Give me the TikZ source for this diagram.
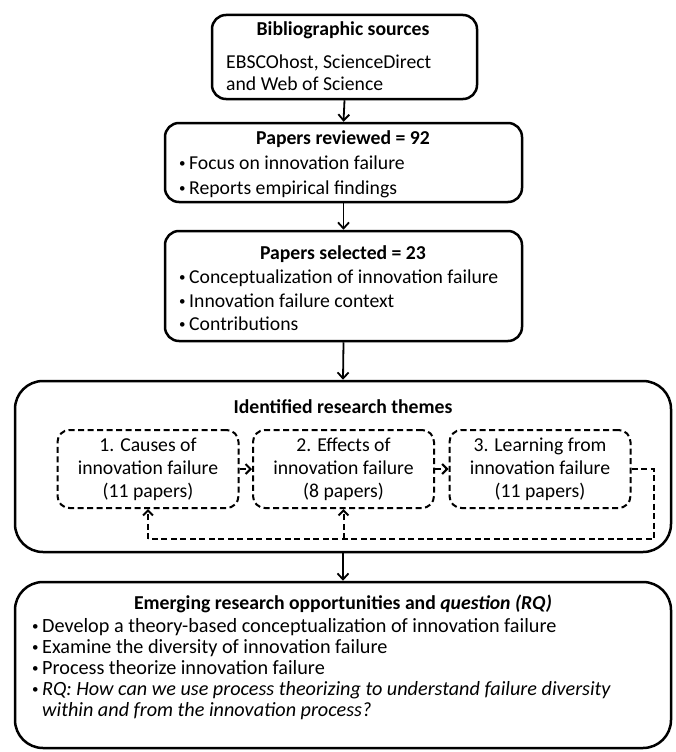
\documentclass[tikz,border=0pt]{standalone}
\usepackage{fontspec}
\setmainfont{Carlito}
\usetikzlibrary{arrows.meta}
\newcommand\bul{\makebox[10pt][l]{\raisebox{1.5pt}{\fontsize{13}{13}\selectfont •}}}
\begin{document}
\begin{tikzpicture}[x=1pt,y=-1pt,font=\fontsize{19.7}{23}\selectfont,
  box/.style={draw, line width=2.5pt, rounded corners=14pt, inner sep=0pt},
  bigbox/.style={box, rounded corners=28pt},
  dbox/.style={draw, line width=2pt, dash pattern=on 6pt off 3.5pt, rounded corners=12pt, inner sep=0pt, minimum width=181pt, minimum height=78pt, align=center},
  arr/.style={line width=1.8pt, -{Straight Barb[length=6pt,width=11pt,line width=1.8pt]}},
  darr/.style={line width=2pt, dash pattern=on 6pt off 3.5pt, -{Straight Barb[length=5pt,width=10pt,line width=2pt]}},
  dline/.style={line width=2pt, dash pattern=on 6pt off 3.5pt},
  txt/.style={anchor=base west, inner sep=0pt},
  ttl/.style={anchor=base, inner sep=0pt, font=\fontsize{19.7}{23}\selectfont\bfseries}]
\useasboundingbox (0,0) rectangle (676,752);
% boxes
\node[box, minimum width=265pt, minimum height=84pt] (b1) at (344.5,57) {};
\node[box, minimum width=357pt, minimum height=79pt] (b2) at (343.5,162.5) {};
\node[box, minimum width=357pt, minimum height=110pt] (b3) at (343.5,286) {};
\node[bigbox, minimum width=656pt, minimum height=171pt] (b4) at (343,466.5) {};
\node[bigbox, minimum width=656pt, minimum height=166pt] (b5) at (343,665) {};
% box 1 text
\node[ttl] (t1) at (343,36) {Bibliographic sources};
\node[txt] (t1a) at (226,68) {EBSCOhost, ScienceDirect};
\node[txt] (t1b) at (226,90) {and Web of Science};
% box 2 text
\node[ttl] (t2) at (343,144) {Papers reviewed = 92};
\node[txt] (t2a) at (179,169) {\bul Focus on innovation failure};
\node[txt] (t2b) at (179,194) {\bul Reports empirical findings};
% box 3 text
\node[ttl] (t3) at (343,259) {Papers selected = 23};
\node[txt] (t3a) at (179,283) {\bul Conceptualization of innovation failure};
\node[txt] (t3b) at (179,307) {\bul Innovation failure context};
\node[txt] (t3c) at (179,330) {\bul Contributions};
% box 4
\node[ttl] (t4) at (343,413) {Identified research themes};
\node[dbox] (d1) at (148,469) {1. Causes of\\innovation failure\\(11 papers)};
\node[dbox] (d2) at (343.5,469) {2. Effects of\\innovation failure\\(8 papers)};
\node[dbox] (d3) at (540,469) {3. Learning from\\innovation failure\\(11 papers)};
\coordinate (fbr) at (654,539);
\coordinate (fbl) at (148,539);
% box 5 text
\begin{scope}[font=\fontsize{20.2}{23}\selectfont]
\node[ttl] (t5) at (343,609) {Emerging research opportunities and \textit{question (RQ)}};
\node[txt] (t5a) at (32,632) {\bul Develop a theory-based conceptualization of innovation failure};
\node[txt] (t5b) at (32,653) {\bul Examine the diversity of innovation failure};
\node[txt] (t5c) at (32,674) {\bul Process theorize innovation failure};
\node[txt] (t5d) at (32,695) {\bul \textit{RQ: How can we use process theorizing to understand failure diversity}};
\node[txt] (t5e) at (42,716) {\textit{within and from the innovation process?}};
\end{scope}
% connectors
\draw[arr] (b1.south) -- (b2.north);
\draw[arr] (b2.south) -- (b3.north);
\draw[arr] (b3.south) -- (b4.north);
\draw[arr] (b4.south) -- (b5.north);
\draw[darr] (d1.east) -- (d2.west);
\draw[darr] (d2.east) -- (d3.west);
\draw[dline] (d3.east) -| (fbr) -- (fbl);
\draw[darr] (fbl) -- (d1.south);
\draw[darr] (fbl -| d2.south) -- (d2.south);
\end{tikzpicture}
\end{document}
